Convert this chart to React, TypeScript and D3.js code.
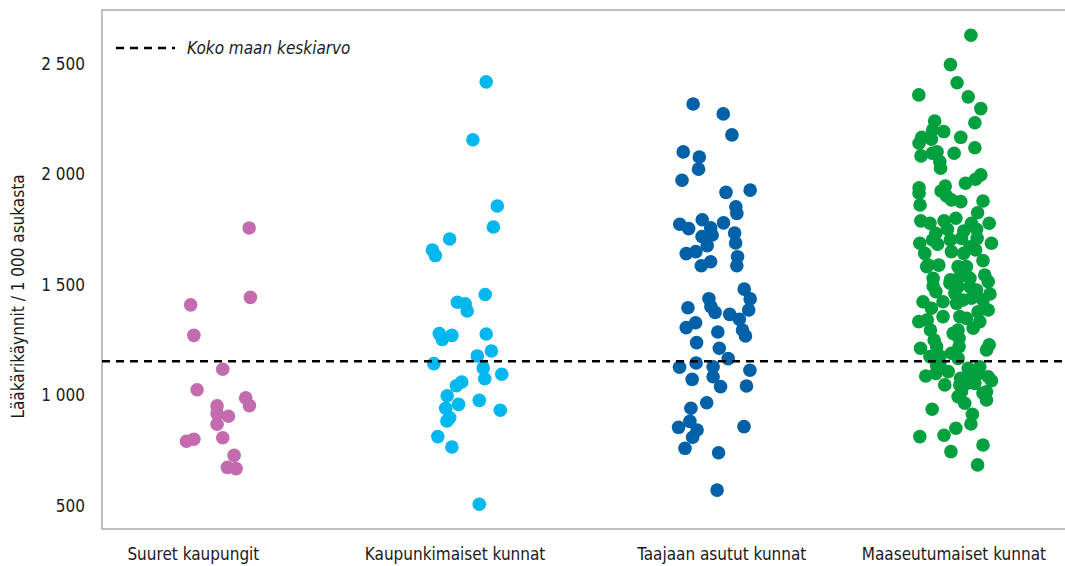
import React from "react";
import * as d3 from "d3";

const categories = ["Suuret kaupungit", "Kaupunkimaiset kunnat", "Taajaan asutut kunnat", "Maaseutumaiset kunnat"];
const colors = ["#C46AAE", "#00B7EE", "#0061A8", "#00A03F"];
const yTicks = [500, 1000, 1500, 2000, 2500];
const nationalAverage = 1155;
const legendLabel = "Koko maan keskiarvo";
const yTitle = "Lääkärikäynnit / 1 000 asukasta";
const labelPositions = [0.9, 1.96, 3.04, 3.98];

const suuretValues = [1758,1444,1410,1272,1119,1026,989,954,953,918,906,870,793,802,809,729,675,669];
const suuretJitter = [0.126,0.131,-0.111,-0.098,0.019,-0.085,0.112,0.127,-0.004,-0.004,0.042,-0.004,-0.128,-0.098,0.019,0.065,0.038,0.073];

const kaupunkiValues = [2419,2157,1857,1762,1708,1658,1633,1457,1422,1415,1382,1280,1272,1254,1278,1201,1179,1144,1124,1076,1096,1061,1044,999,960,978,942,900,885,933,814,767,508];
const kaupunkiJitter = [0.086,0.032,0.131,0.115,-0.062,-0.132,-0.120,0.082,-0.031,0.001,0.009,-0.104,-0.053,-0.092,0.086,0.107,0.050,-0.126,0.074,0.080,0.149,-0.013,-0.035,-0.072,-0.026,0.058,-0.078,-0.062,-0.073,0.143,-0.110,-0.053,0.058];

const taajaanValues = [2319,2274,2179,2102,2079,2024,1974,1919,1929,1854,1824,1775,1755,1795,1781,1759,1726,1719,1678,1735,1690,1642,1651,1628,1587,1587,1605,1481,1437,1387,1438,1402,1376,1397,1367,1345,1329,1307,1296,1269,1287,1239,1214,1167,1147,1128,1130,1114,1073,1085,1040,1043,967,942,883,856,844,811,859,761,741,572];
const taajaanJitter = [-0.076,0.046,0.081,-0.116,-0.051,-0.054,-0.121,0.057,0.155,0.097,0.101,-0.130,-0.094,-0.039,0.047,-0.005,0.001,-0.040,-0.019,0.092,0.096,-0.104,-0.065,0.104,0.101,-0.043,-0.005,0.131,0.155,0.149,-0.012,-0.004,0.013,-0.097,0.072,0.111,-0.066,-0.104,0.124,0.136,0.024,-0.062,0.030,0.066,-0.064,-0.131,0.005,0.154,-0.080,0.005,0.035,0.140,-0.021,-0.085,-0.089,-0.135,-0.060,-0.078,0.130,-0.109,0.027,0.021];

const maaseutuValues = [2630,2497,2415,2360,2351,2298,2234,2242,2194,2201,2168,2159,2141,2168,2121,2084,2096,2103,2096,2058,2028,1998,1978,1960,1940,1915,1948,1925,1903,1885,1877,1862,1880,1827,1790,1779,1790,1802,1779,1779,1752,1744,1752,1734,1689,1689,1704,1684,1704,1711,1711,1673,1643,1651,1643,1658,1610,1590,1590,1583,1583,1530,1495,1523,1538,1530,1545,1515,1492,1492,1470,1462,1459,1424,1424,1432,1440,1432,1395,1417,1387,1379,1334,1342,1349,1304,1296,1296,1251,1259,1229,1206,1214,1221,1221,1191,1176,1179,1168,1138,1108,1123,1130,1088,1100,1078,1093,1085,1067,1048,1048,1055,1017,995,965,980,938,915,871,852,814,820,776,746,686,1017,1583,1508,1568,1477,1357,1357,1334,1281,1055,1093,1146,1010];
const maaseutuJitter = [0.049,-0.034,-0.007,-0.162,0.038,0.089,0.065,-0.098,-0.061,-0.106,-0.150,-0.111,-0.161,0.008,0.065,-0.153,-0.108,-0.088,-0.019,-0.077,-0.074,0.089,0.068,0.027,-0.161,-0.161,-0.055,-0.072,-0.050,-0.030,0.008,-0.157,0.098,0.076,-0.154,-0.117,-0.060,-0.012,0.051,0.123,0.072,0.020,-0.046,-0.093,-0.158,0.132,-0.034,-0.086,-0.106,0.011,0.074,0.045,-0.138,-0.030,0.020,0.068,0.098,-0.124,-0.081,-0.003,0.031,-0.104,-0.104,-0.034,0.004,0.045,0.105,0.119,-0.003,0.045,-0.093,-0.016,0.126,-0.145,-0.064,0.017,0.051,0.098,-0.111,-0.009,0.119,0.078,-0.162,-0.128,0.031,0.058,-0.115,-0.003,-0.100,0.001,0.123,0.112,-0.155,-0.090,0.001,-0.030,-0.117,-0.077,-0.003,-0.090,-0.043,0.038,0.085,-0.134,-0.093,0.007,0.051,0.119,0.132,-0.057,0.004,0.065,0.112,-0.003,0.024,0.112,-0.108,0.055,0.049,-0.012,-0.158,-0.060,0.098,-0.032,0.076,0.011,-0.130,-0.036,0.024,0.072,-0.064,0.004,0.085,-0.023,0.031,0.072,-0.077,0.098];

const seriesValues = [suuretValues, kaupunkiValues, taajaanValues, maaseutuValues];
const seriesJitter = [suuretJitter, kaupunkiJitter, taajaanJitter, maaseutuJitter];

const W = 1065;
const H = 566;
const plotLeft = 102;
const plotRight = 1065;
const plotTop = 10;
const plotBottom = 529;
const FONT = "'Liberation Sans Narrow', 'DejaVu Sans Condensed', 'Arial Narrow', sans-serif";

export default function App() {
  const x = d3.scaleLinear().domain([0.53, 4.43]).range([plotLeft, plotRight]);
  const y = d3.scaleLinear().domain([396, 2744]).range([plotBottom, plotTop]);

  const points = seriesValues.flatMap((vals, ci) =>
    vals.slice(0, Math.min(vals.length, seriesJitter[ci].length)).map((v, i) => ({
      ci,
      cx: x(ci + 1 + seriesJitter[ci][i]),
      cy: y(v),
    }))
  );

  const frame = d3.path();
  frame.moveTo(plotRight, plotTop);
  frame.lineTo(plotLeft, plotTop);
  frame.lineTo(plotLeft, plotBottom);
  frame.lineTo(plotRight, plotBottom);

  return (
    <div style={{ position: "fixed", left: 0, top: 0, width: W, height: H, background: "#fff" }}>
      <svg width={W} height={H} style={{ display: "block" }}>
        <rect x={0} y={0} width={W} height={H} fill="#fff" />
        <path d={frame.toString()} fill="none" stroke="#aaaaaa" strokeWidth={1.5} />
        {yTicks.map((t) => (
          <text
            key={t}
            x={85}
            y={y(t)}
            textAnchor="end"
            dominantBaseline="central"
            fontFamily={FONT}
            fontSize={17}
            fill="#1a1a1a"
          >
            {d3.format(",")(t).replace(",", " ")}
          </text>
        ))}
        <text
          transform={`translate(24, ${(plotTop + plotBottom) / 2 + 27}) rotate(-90)`}
          textAnchor="middle"
          fontFamily={FONT}
          fontSize={17}
          fill="#1a1a1a"
        >
          {yTitle}
        </text>
        {categories.map((c, i) => (
          <text
            key={c}
            x={x(labelPositions[i])}
            y={560}
            textAnchor="middle"
            fontFamily={FONT}
            fontSize={17}
            fill="#1a1a1a"
          >
            {c}
          </text>
        ))}
        <g>
          {points.map((p, i) => (
            <circle key={i} cx={p.cx} cy={p.cy} r={6.8} fill={colors[p.ci]} />
          ))}
        </g>
        <line
          x1={plotLeft}
          x2={plotRight}
          y1={y(nationalAverage)}
          y2={y(nationalAverage)}
          stroke="#000"
          strokeWidth={2.5}
          strokeDasharray="8 6"
        />
        <line x1={116} x2={175} y1={48} y2={48} stroke="#000" strokeWidth={2.5} strokeDasharray="8 6" />
        <text
          x={187}
          y={48}
          dominantBaseline="central"
          fontFamily={FONT}
          fontStyle="italic"
          fontSize={17}
          fill="#1a1a1a"
        >
          {legendLabel}
        </text>
      </svg>
    </div>
  );
}
